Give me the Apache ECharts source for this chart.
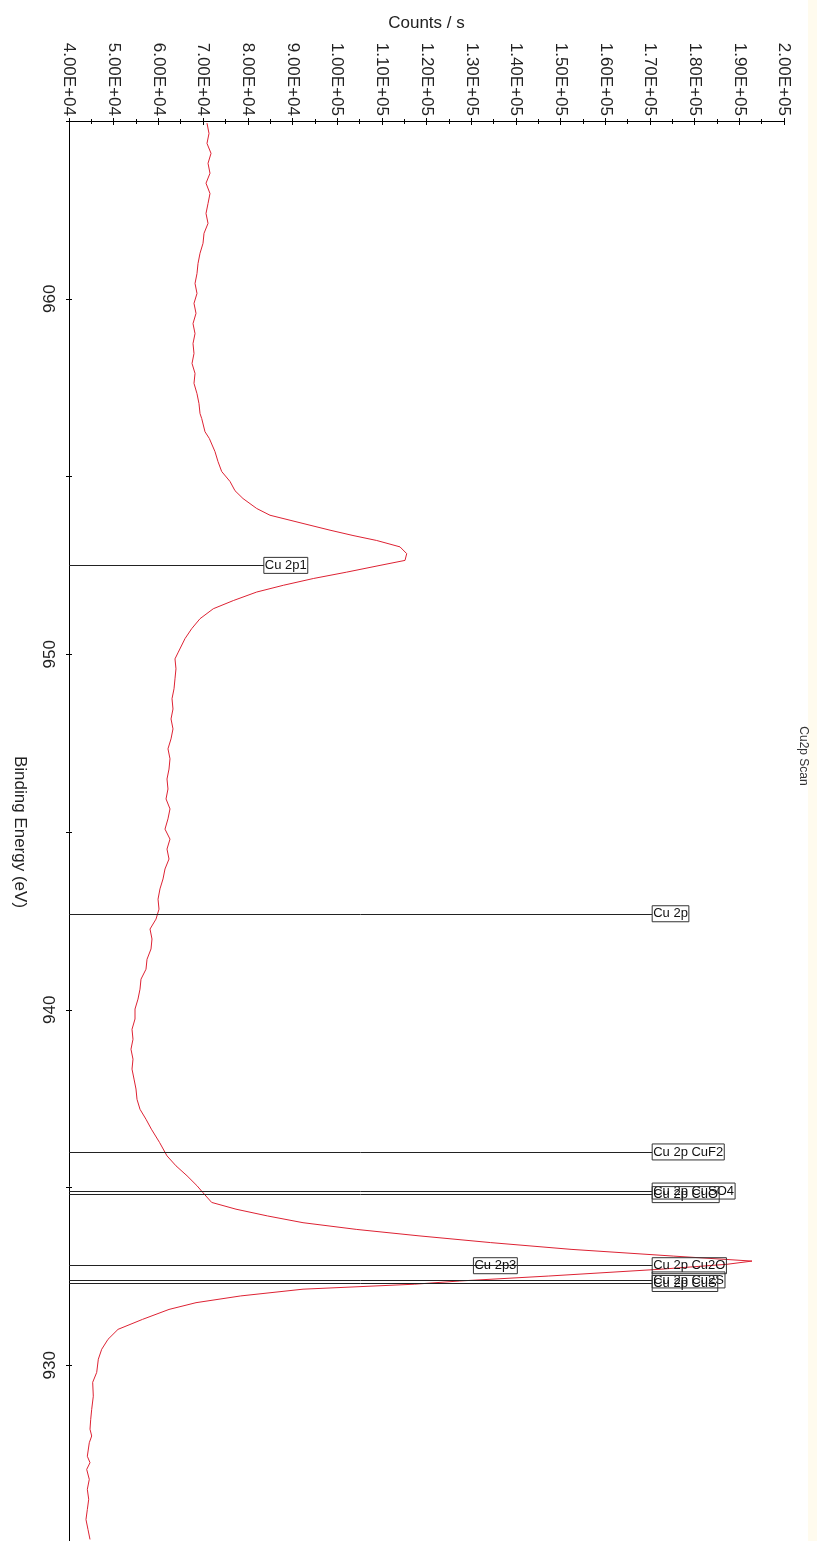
<!DOCTYPE html>
<html>
<head>
<meta charset="utf-8">
<title>Cu2p Scan</title>
<script src="https://cdn.jsdelivr.net/npm/echarts@6.0.0/dist/echarts.min.js"></script>
<style>
  html, body { margin: 0; padding: 0; background: #ffffff; overflow: hidden; }
  #chart { width: 817px; height: 1541px; }
</style>
</head>
<body>
<div id="chart"></div>
<script>
// Cu 2p region scan: binding energy (eV) and intensity (counts / s)
const bindingEnergy = [
  964.94, 964.65, 964.37, 964.09, 963.81, 963.53, 963.25, 962.96, 962.68, 962.40,
  962.12, 961.84, 961.56, 961.28, 960.99, 960.71, 960.43, 960.15, 959.87, 959.59,
  959.30, 959.02, 958.74, 958.46, 958.18, 957.90, 957.62, 957.33, 957.05, 956.77,
  956.63, 956.26, 956.07, 955.70, 955.42, 955.14, 954.86, 954.60, 954.38, 954.10,
  953.91, 953.77, 953.63, 953.49, 953.34, 953.20, 953.02, 952.83, 952.64, 952.50,
  952.31, 952.13, 951.94, 951.75, 951.51, 951.28, 951.00, 950.72, 950.44, 950.06,
  949.87, 949.59, 949.31, 949.03, 948.75, 948.46, 948.18, 947.90, 947.62, 947.34,
  947.06, 946.77, 946.49, 946.21, 945.93, 945.65, 945.37, 945.08, 944.80, 944.52,
  944.24, 943.96, 943.68, 943.40, 943.11, 942.83, 942.55, 942.27, 941.99, 941.71,
  941.42, 941.14, 940.86, 940.58, 940.30, 940.02, 939.74, 939.45, 939.17, 938.89,
  938.61, 938.33, 938.05, 937.77, 937.48, 937.20, 936.92, 936.64, 936.27, 935.89,
  935.61, 935.33, 935.05, 934.86, 934.58, 934.39, 934.20, 934.01, 933.82, 933.64,
  933.45, 933.26, 933.07, 932.93, 932.84, 932.70, 932.51, 932.37, 932.28, 932.14,
  931.95, 931.76, 931.57, 931.29, 931.01, 930.73, 930.45, 930.17, 929.80, 929.52,
  929.13, 928.76, 928.48, 928.20, 928.01, 927.82, 927.44, 927.26, 927.07, 926.79,
  926.51, 926.23, 925.94, 925.66, 925.38, 925.10
];
const countsPerSecond = [
  70880, 71330, 70880, 71780, 71110, 71550, 70660, 71550, 71110, 70660,
  71110, 70210, 69990, 69320, 68870, 68640, 68200, 68640, 67970, 68420,
  67750, 68200, 67750, 67970, 67530, 68200, 67970, 68640, 69090, 69320,
  69700, 70430, 71400, 72670, 73340, 74170, 76030, 77150, 78940, 82000,
  84980, 89460, 93930, 98410, 103550, 108860, 114070, 115570, 115190, 109600,
  102140, 94670, 87960, 82000, 76770, 72290, 69320, 67460, 65960, 64460,
  63720, 63940, 63720, 63500, 63050, 63270, 62830, 63270, 62830, 62150,
  62600, 62380, 61930, 62150, 61710, 62600, 62150, 61480, 62600, 61930,
  62380, 61480, 61040, 60360, 59920, 60140, 59470, 58130, 58570, 58350,
  57460, 57230, 56110, 55890, 55440, 54770, 54770, 54100, 54320, 53870,
  54320, 54100, 54550, 54990, 55220, 55890, 57230, 58440, 60250, 61930,
  63940, 66410, 68640, 69940, 71930, 77370, 84420, 92370, 104400, 118320,
  134370, 152340, 175340, 192840, 187250, 172260, 147370, 127390, 117380, 92370,
  78420, 68420, 62380, 56450, 50970, 48730, 47320, 46560, 46200, 45300,
  45440, 45080, 44860, 44700, 45080, 44540, 44100, 44700, 43960, 44540,
  44100, 44410, 44100, 43800, 44250, 44700
];

// Reference peak positions marked on the spectrum
const peakNames = [
  'Cu 2p1', 'Cu 2p', 'Cu 2p CuF2', 'Cu 2p CuSO4', 'Cu 2p CuO',
  'Cu 2p3', 'Cu 2p Cu2O', 'Cu 2p Cu2S', 'Cu 2p CuS'
];
const peakEnergies = [952.5, 942.7, 936.0, 934.9, 934.8, 932.8, 932.8, 932.4, 932.3];
const peakLabelCounts = [83600, 170500, 170500, 170500, 170500, 130500, 170500, 170500, 170500];

const countsMin = 40000, countsMax = 200000, countsStep = 10000;
const energyMin = 925, energyMax = 965, energyStep = 5;

const FONT = "'Liberation Sans', Arial, Helvetica, sans-serif";

function sciLabel(v) {
  const e = Math.floor(Math.log10(v) + 1e-9);
  const m = v / Math.pow(10, e);
  return m.toFixed(2) + 'E+' + (e < 10 ? '0' : '') + e;
}

const spectrum = bindingEnergy.map((e, i) => [countsPerSecond[i], e]);

const chart = echarts.init(document.getElementById('chart'), null, { renderer: 'canvas' });

const gridBox = { left: 69, top: 121, width: 715, height: 1422, containLabel: false, outerBoundsMode: 'none' };

chart.setOption({
  backgroundColor: '#ffffff',
  animation: false,
  grid: [Object.assign({}, gridBox), Object.assign({}, gridBox)],
  xAxis: [
    {
      type: 'value', gridIndex: 0, position: 'top',
      min: countsMin, max: countsMax, interval: countsStep,
      name: 'Counts / s', nameLocation: 'middle', nameGap: 89,
      nameTextStyle: { fontSize: 17, color: '#222', fontFamily: FONT },
      axisLine: { show: true, lineStyle: { color: '#000', width: 1 } },
      axisTick: { show: true, length: 3, lineStyle: { color: '#000' } },
      minorTick: { show: true, splitNumber: 2, length: 2, lineStyle: { color: '#000' } },
      axisLabel: { rotate: 90, margin: 5, fontSize: 17, color: '#222', fontFamily: FONT, formatter: sciLabel },
      splitLine: { show: false }
    },
    {
      type: 'value', gridIndex: 1, position: 'top',
      min: countsMin, max: countsMax, interval: countsStep,
      axisLine: { show: false },
      axisTick: { show: true, inside: true, length: 4, lineStyle: { color: '#000' } },
      minorTick: { show: true, splitNumber: 2, length: 3, lineStyle: { color: '#000' } },
      axisLabel: { show: false },
      splitLine: { show: false }
    }
  ],
  yAxis: [
    {
      type: 'value', gridIndex: 0, position: 'left',
      min: energyMin, max: energyMax, interval: energyStep,
      name: 'Binding Energy (eV)', nameLocation: 'middle', nameRotate: -90, nameGap: 41,
      nameTextStyle: { fontSize: 17, color: '#222', fontFamily: FONT },
      axisLine: { show: true, lineStyle: { color: '#000', width: 1 } },
      axisTick: { show: true, length: 3, lineStyle: { color: '#000' } },
      axisLabel: {
        rotate: 90, margin: 10, fontSize: 17, color: '#222', fontFamily: FONT,
        formatter: v => (v % 10 === 0 ? String(v) : '')
      },
      splitLine: { show: false }
    },
    {
      type: 'value', gridIndex: 1, position: 'left',
      min: energyMin, max: energyMax, interval: energyStep,
      axisLine: { show: false },
      axisTick: { show: true, inside: true, length: 3, lineStyle: { color: '#000' } },
      axisLabel: { show: false },
      splitLine: { show: false }
    }
  ],
  graphic: [
    {
      type: 'rect', silent: true, z: -10,
      shape: { x: 808, y: 0, width: 9, height: 1541 },
      style: { fill: '#fffbee' }
    },
    {
      type: 'text', silent: true,
      x: 803, y: 756, rotation: -Math.PI / 2,
      style: { text: 'Cu2p Scan', fontSize: 12, fontFamily: FONT, fill: '#333', align: 'center', verticalAlign: 'middle' }
    }
  ],
  series: [
    {
      type: 'line', xAxisIndex: 0, yAxisIndex: 0,
      data: spectrum,
      symbol: 'none', showSymbol: false, silent: true,
      lineStyle: { color: '#dd2233', width: 1 },
      markLine: {
        silent: true, animation: false,
        symbol: ['none', 'none'],
        lineStyle: { color: '#222', width: 1, type: 'solid' },
        label: {
          show: true, position: 'end', distance: 0, formatter: '{b}',
          fontSize: 13, lineHeight: 14, fontFamily: FONT, color: '#111',
          borderColor: '#333', borderWidth: 1, padding: [1, 1, 1, 1]
        },
        emphasis: { disabled: true },
        data: peakNames.map((n, i) => [
          { name: n, coord: [countsMin, peakEnergies[i]] },
          { coord: [peakLabelCounts[i], peakEnergies[i]] }
        ])
      }
    }
  ]
});
</script>
</body>
</html>
